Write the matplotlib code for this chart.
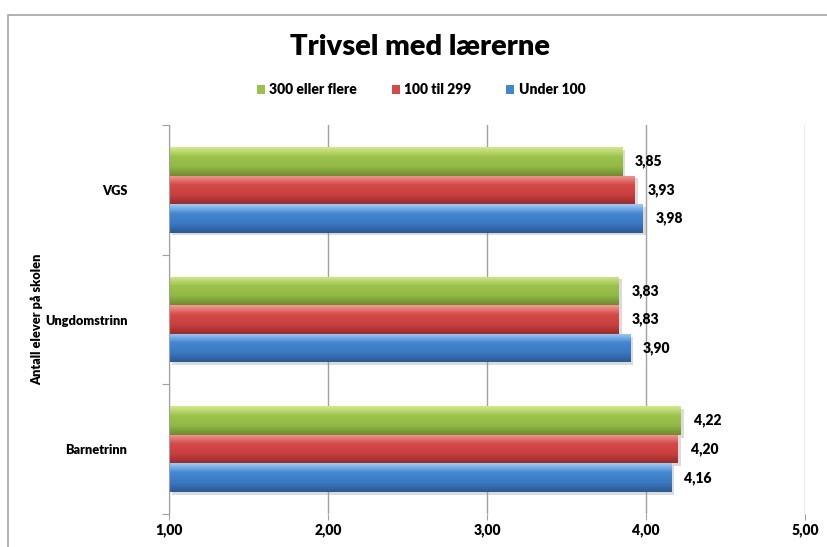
import numpy as np
import matplotlib
matplotlib.use("Agg")
import matplotlib.pyplot as plt
from matplotlib.colors import LinearSegmentedColormap
from matplotlib.patches import Patch, Rectangle
from matplotlib.ticker import FixedLocator, FuncFormatter
import matplotlib.patheffects as pe

plt.rcParams["font.family"] = ["Lato", "DejaVu Sans"]
plt.rcParams["font.weight"] = "heavy"

# Data
categories = ["Barnetrinn", "Ungdomstrinn", "VGS"]
series_names = ["300 eller flere", "100 til 299", "Under 100"]
values = {
    "300 eller flere": [4.22, 3.83, 3.85],
    "100 til 299": [4.20, 3.83, 3.93],
    "Under 100": [4.16, 3.90, 3.98],
}
x_ticks = [1, 2, 3, 4, 5]

# gradient colours: top highlight, body, bottom shade
shades = {
    "300 eller flere": ["#d2ea8a", "#9cc24c", "#93b946", "#6d8c2e"],
    "100 til 299": ["#f49a96", "#d34a48", "#c9403e", "#9c2c2a"],
    "Under 100": ["#9ccdf6", "#4386d0", "#3b79c2", "#2b5894"],
}

def comma(v, pos=None):
    return f"{v:.2f}".replace(".", ",")

fig = plt.figure(figsize=(8.27, 5.47), dpi=100)
ax = fig.add_axes([169 / 827, 1 - 514 / 547, 636 / 827, 389 / 547])

bar_h = 0.22
offsets = [bar_h, 0, -bar_h]
y = np.arange(len(categories))

for name, off in zip(series_names, offsets):
    cmap = LinearSegmentedColormap.from_list(name, shades[name][::-1])
    grad = np.linspace(0, 1, 64).reshape(-1, 1)
    bars = ax.barh(y + off, np.array(values[name]) - 1, left=1, height=bar_h,
                   color=shades[name][2], edgecolor="none", zorder=3,
                   path_effects=[pe.SimplePatchShadow(offset=(2, -2), shadow_rgbFace="#999999", alpha=0.35),
                                 pe.Normal()])
    for b, v in zip(bars, values[name]):
        x0, y0, w, h = b.get_x(), b.get_y(), b.get_width(), b.get_height()
        im = ax.imshow(grad, cmap=cmap, aspect="auto", origin="lower",
                       extent=[x0, x0 + w, y0, y0 + h], zorder=4)
        im.set_clip_path(b)
        ax.text(v + 0.08, y0 + h / 2, comma(v), va="center", ha="left",
                fontsize=10, fontweight="heavy", zorder=5)

ax.set_xlim(1, 5)
ax.set_ylim(-0.5, 2.5)
ax.xaxis.set_major_locator(FixedLocator(x_ticks))
ax.xaxis.set_major_formatter(FuncFormatter(comma))
ax.tick_params(axis="x", length=4, color="#a0a0a0", pad=3, labelsize=10)
ax.set_yticks([-0.5, 0.5, 1.5, 2.5])
ax.set_yticklabels([])
ax.set_yticks(y, minor=True)
ax.set_yticklabels(categories, minor=True, fontsize=9.2, fontweight="heavy")
ax.tick_params(axis="y", which="major", length=5, color="#a0a0a0")
ax.tick_params(axis="y", which="minor", length=0, pad=30)
ax.grid(axis="x", color="#a0a0a0", linewidth=1, zorder=0)
for s in ["top", "right", "bottom"]:
    ax.spines[s].set_visible(False)
ax.spines["left"].set_color("#a0a0a0")
ax.spines["left"].set_zorder(6)

ax.set_ylabel("Antall elever på skolen", fontsize=9.2, fontweight="heavy", labelpad=0)
ax.yaxis.set_label_coords(-0.1985, 0.5)

fig.text(420 / 827, 1 - 47 / 547, "Trivsel med lærerne", ha="center", va="center",
         fontsize=21, fontweight="heavy")

handles = [Patch(facecolor=shades[n][1], edgecolor="none") for n in series_names]
fig.legend(handles, series_names, loc="center", bbox_to_anchor=(421 / 827, 1 - 90 / 547),
           ncol=3, frameon=False, handlelength=0.6, handleheight=0.6,
           handletextpad=0.3, columnspacing=2.5, prop={"weight": "heavy", "size": 10})

# outer chart border
fig.add_artist(Rectangle((8 / 827, -0.1), 1.2, 1 - 15 / 547 + 0.1, transform=fig.transFigure,
                         fill=False, edgecolor="#a6a6a6", linewidth=1.2))

fig.savefig("out.png", dpi=100)
